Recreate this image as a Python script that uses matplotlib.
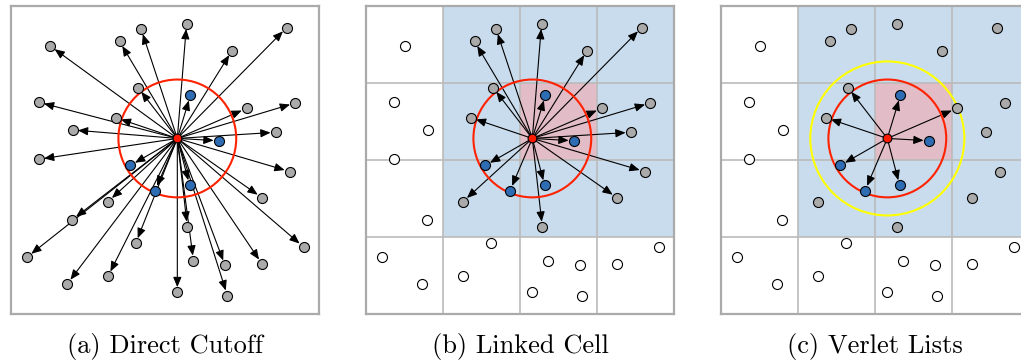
import matplotlib
matplotlib.use("Agg")
import matplotlib.pyplot as plt
from matplotlib.patches import Rectangle, Circle
import numpy as np

# particle positions in cell units (4x4 cells, y measured downwards)
center = (2.16, 1.72)
white_x = [0.51, 0.36, 0.80, 0.36, 0.79, 0.21, 0.73, 1.62, 1.26, 2.37, 2.78, 2.16, 2.81, 3.26, 3.80]
white_y = [0.52, 1.25, 1.61, 1.99, 2.78, 3.26, 3.61, 3.08, 3.51, 3.31, 3.37, 3.72, 3.76, 3.35, 3.13]
grey_x = [1.41, 1.69, 2.28, 2.87, 3.58, 1.65, 1.36, 3.06, 3.69, 3.44, 3.62, 3.26, 1.26, 2.29]
grey_y = [0.46, 0.30, 0.23, 0.58, 0.28, 1.06, 1.45, 1.33, 1.26, 1.64, 2.15, 2.49, 2.54, 2.87]
blue_x = [2.33, 2.70, 1.55, 1.87, 2.32]
blue_y = [1.16, 1.75, 2.07, 2.40, 2.33]
cutoff = 0.765
verlet_radius = 1.0
home_cell = (2, 1)
captions = ["(a) Direct Cutoff", "(b) Linked Cell", "(c) Verlet Lists"]

W, H = 1021, 362
fig = plt.figure(figsize=(W / 100, H / 100), dpi=100)


def make_ax(left_px):
    ax = fig.add_axes([left_px / W, (H - 314) / H, 308 / W, 308 / H])
    ax.set_xlim(0, 4)
    ax.set_ylim(4, 0)
    ax.set_xticks([])
    ax.set_yticks([])
    for s in ax.spines.values():
        s.set_color("#aaaaaa")
        s.set_linewidth(1.6)
    return ax


def arrows(ax, xs, ys):
    for x, y in zip(xs, ys):
        ax.annotate("", xy=(x, y), xytext=center,
                    arrowprops=dict(arrowstyle="-|>,head_length=0.6,head_width=0.25",
                                    color="black", lw=0.8, shrinkA=0, shrinkB=3.8,
                                    mutation_scale=10), zorder=2)


def cells(ax):
    ax.add_patch(Rectangle((home_cell[0] - 1, home_cell[1] - 1), 3, 3,
                           facecolor="#c9dcee", edgecolor="none", zorder=0))
    ax.add_patch(Rectangle(home_cell, 1, 1, facecolor="#e2bcc6",
                           edgecolor="none", zorder=0.5))
    for k in [1, 2, 3]:
        ax.axvline(k, color="#bbbbbb", lw=1.2, zorder=1)
        ax.axhline(k, color="#bbbbbb", lw=1.2, zorder=1)


def dots(ax, xs, ys, fc):
    ax.scatter(xs, ys, s=52, facecolor=fc, edgecolor="black", linewidth=0.8, zorder=4)


all_x = white_x + grey_x + blue_x
all_y = white_y + grey_y + blue_y

# (a) direct cutoff
ax = make_ax(11)
arrows(ax, all_x, all_y)
ax.add_patch(Circle(center, cutoff, fill=False, edgecolor="#ff2200", lw=1.5, zorder=3))
dots(ax, white_x + grey_x, white_y + grey_y, "#aaaaaa")
dots(ax, blue_x, blue_y, "#2e6db4")
ax.scatter(*center, s=40, facecolor="#ff1a00", edgecolor="black", linewidth=0.8, zorder=5)

# (b) linked cell
ax = make_ax(366)
cells(ax)
arrows(ax, grey_x + blue_x, grey_y + blue_y)
ax.add_patch(Circle(center, cutoff, fill=False, edgecolor="#ff2200", lw=1.5, zorder=3))
dots(ax, white_x, white_y, "white")
dots(ax, grey_x, grey_y, "#aaaaaa")
dots(ax, blue_x, blue_y, "#2e6db4")
ax.scatter(*center, s=40, facecolor="#ff1a00", edgecolor="black", linewidth=0.8, zorder=5)

# (c) verlet lists
ax = make_ax(721)
cells(ax)
nx = np.array(grey_x + blue_x)
ny = np.array(grey_y + blue_y)
inside = np.hypot(nx - center[0], ny - center[1]) < verlet_radius
arrows(ax, nx[inside], ny[inside])
ax.add_patch(Circle(center, verlet_radius, fill=False, edgecolor="#ffff00", lw=1.5, zorder=3))
ax.add_patch(Circle(center, cutoff, fill=False, edgecolor="#ff2200", lw=1.5, zorder=3))
dots(ax, white_x, white_y, "white")
dots(ax, grey_x, grey_y, "#aaaaaa")
dots(ax, blue_x, blue_y, "#2e6db4")
ax.scatter(*center, s=40, facecolor="#ff1a00", edgecolor="black", linewidth=0.8, zorder=5)

for left, cap in zip([11, 366, 721], captions):
    fig.text((left + 154) / W, (H - 346) / H, cap, ha="center", va="center",
             fontsize=19, family="cmr10")

fig.savefig("out.png", dpi=100)
